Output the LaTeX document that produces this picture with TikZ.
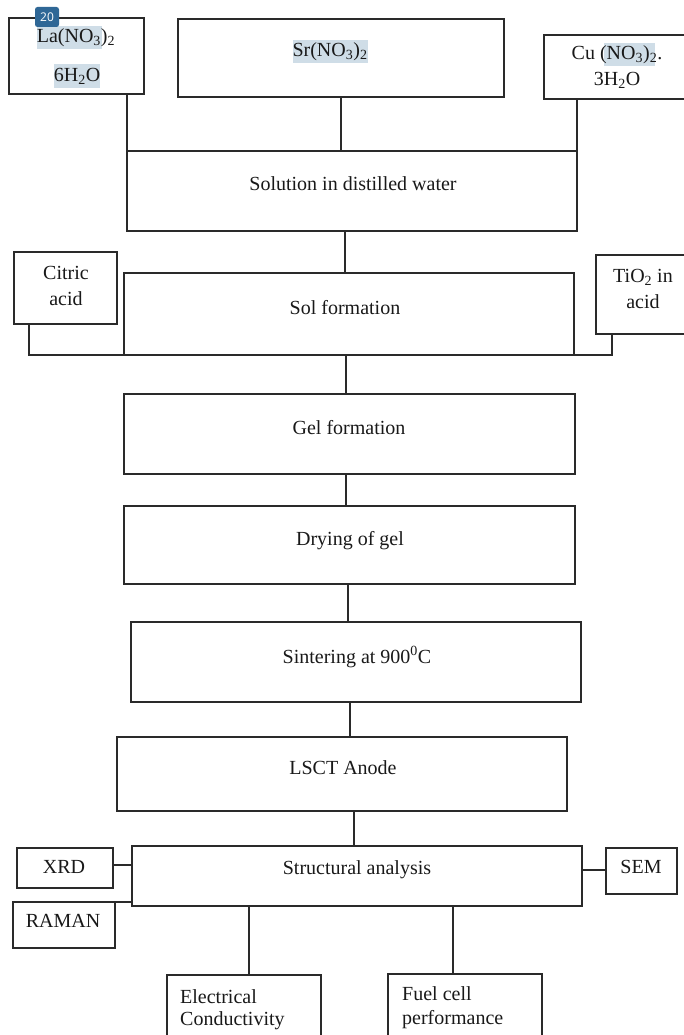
\documentclass[tikz,border=0pt]{standalone}
\usepackage{fontspec}
\setmainfont{Liberation Serif}
\newfontfamily\badgefont{Open Sans}
\usetikzlibrary{calc}
\definecolor{hl}{HTML}{CFDDE7}
\definecolor{badge}{HTML}{2F6796}
\definecolor{ln}{HTML}{2A2A2A}
\tikzset{
  box/.style={draw=ln, line width=1.2pt, inner sep=0pt, outer sep=0pt, fill=none},
  txt/.style={inner sep=0pt, font=\fontsize{20}{24}\selectfont, text=black!90},
  ltxt/.style={txt, anchor=west},
  conn/.style={draw=ln, line width=1.2pt},
  hlbox/.style={fill=hl, draw=none},
}
\begin{document}
\begin{tikzpicture}[x=1pt, y=-1pt]
\useasboundingbox (0,0) rectangle (684,1035);
\clip (0,0) rectangle (684,1035);
\fill[white] (0,0) rectangle (684,1035);

% highlights
\fill[hlbox] (37,26) rectangle (102,49);
\fill[hlbox] (54,64) rectangle (100,88);
\fill[hlbox] (293,40) rectangle (368,63);
\fill[hlbox] (604,43) rectangle (655,66);

% boxes
\node[box, minimum width=135pt, minimum height=76pt] (la) at (76.5,56) {};
\node[box, minimum width=326pt, minimum height=78pt] (sr) at (341,58) {};
\node[box, minimum width=156pt, minimum height=64pt] (cu) at (622,67) {};
\node[box, minimum width=450pt, minimum height=80pt] (solu) at (352,191) {};
\node[box, minimum width=103pt, minimum height=72pt] (cit) at (65.5,288) {};
\node[box, minimum width=450pt, minimum height=82pt] (sol) at (349,314) {};
\node[box, minimum width=104pt, minimum height=79pt] (ti) at (648,294.5) {};
\node[box, minimum width=451pt, minimum height=80pt] (gel) at (349.5,434) {};
\node[box, minimum width=451pt, minimum height=78pt] (dry) at (349.5,545) {};
\node[box, minimum width=450pt, minimum height=80pt] (sin) at (356,662) {};
\node[box, minimum width=450pt, minimum height=74pt] (lsct) at (342,774) {};
\node[box, minimum width=450pt, minimum height=60pt] (str) at (357,876) {};
\node[box, minimum width=96pt, minimum height=40pt] (xrd) at (65,868) {};
\node[box, minimum width=102pt, minimum height=46pt] (ram) at (64,925) {};
\node[box, minimum width=71pt, minimum height=46pt] (sem) at (641.5,871) {};
\node[box, minimum width=154pt, minimum height=76pt] (ele) at (244,1013) {};
\node[box, minimum width=154pt, minimum height=76pt] (fue) at (465,1012) {};

% texts
\node[txt] (lat1) at (76,38) {La(NO\textsubscript{3})\textsubscript{2}};
\node[txt] (lat2) at (77,76) {6H\textsubscript{2}O};
\node[txt] (srt) at (330,52) {Sr(NO\textsubscript{3})\textsubscript{2}};
\node[txt] (cut1) at (617,55) {Cu (NO\textsubscript{3})\textsubscript{2}.};
\node[txt] (cut2) at (617,80) {3H\textsubscript{2}O};
\node[txt] (solut) at (353,184) {Solution in distilled water};
\node[txt] (citt1) at (66,273) {Citric};
\node[txt] (citt2) at (66,299) {acid};
\node[txt] (solt) at (345,308) {Sol formation};
\node[txt] (tit1) at (643,277) {TiO\textsubscript{2} in};
\node[txt] (tit2) at (643,302) {acid};
\node[txt] (gelt) at (349,428) {Gel formation};
\node[txt] (dryt) at (350,541) {Drying of gel};
\node[txt] (sint) at (357,657) {Sintering at 900\textsuperscript{0}C};
\node[txt] (lsctt) at (343,768) {LSCT Anode};
\node[txt] (strt) at (357,870) {Structural analysis};
\node[txt] (xrdt) at (64,867) {XRD};
\node[txt] (ramt) at (63,921) {RAMAN};
\node[txt] (semt) at (641,867) {SEM};
\node[ltxt] (elet1) at (180,997) {Electrical};
\node[ltxt] (elet2) at (180,1021) {Conductivity};
\node[ltxt] (fuet1) at (402,994) {Fuel cell};
\node[ltxt] (fuet2) at (402,1020) {performance};

% connectors
\draw[conn] (la.south -| solu.west) -- (solu.north west);
\draw[conn] (sr.south) -- (sr.south |- solu.north);
\draw[conn] (cu.south -| solu.east) -- (solu.north east);
\draw[conn] (solu.south -| 345,0) -- (sol.north -| 345,0);
\draw[conn] (cit.south -| 29,0) |- (sol.south west);
\draw[conn] (ti.south -| 612,0) |- (sol.south east);
\draw[conn] (sol.south -| 346,0) -- (gel.north -| 346,0);
\draw[conn] (gel.south -| 346,0) -- (dry.north -| 346,0);
\draw[conn] (dry.south -| 348,0) -- (sin.north -| 348,0);
\draw[conn] (sin.south -| 350,0) -- (lsct.north -| 350,0);
\draw[conn] (lsct.south -| 354,0) -- (str.north -| 354,0);
\draw[conn] (xrd.east |- 0,865) -- (str.west |- 0,865);
\draw[conn] (ram.north east) -- (ram.north east -| str.west);
\draw[conn] (sem.west |- 0,870) -- (str.east |- 0,870);
\draw[conn] (str.south -| 249,0) -- (ele.north -| 249,0);
\draw[conn] (str.south -| 453,0) -- (fue.north -| 453,0);

% badge
\node[fill=badge, rounded corners=2.5pt, minimum width=24pt, minimum height=20pt, inner sep=0pt,
      text=white, font=\badgefont\fontsize{12}{14}\selectfont] (badge) at (47,17) {20};
\end{tikzpicture}
\end{document}
